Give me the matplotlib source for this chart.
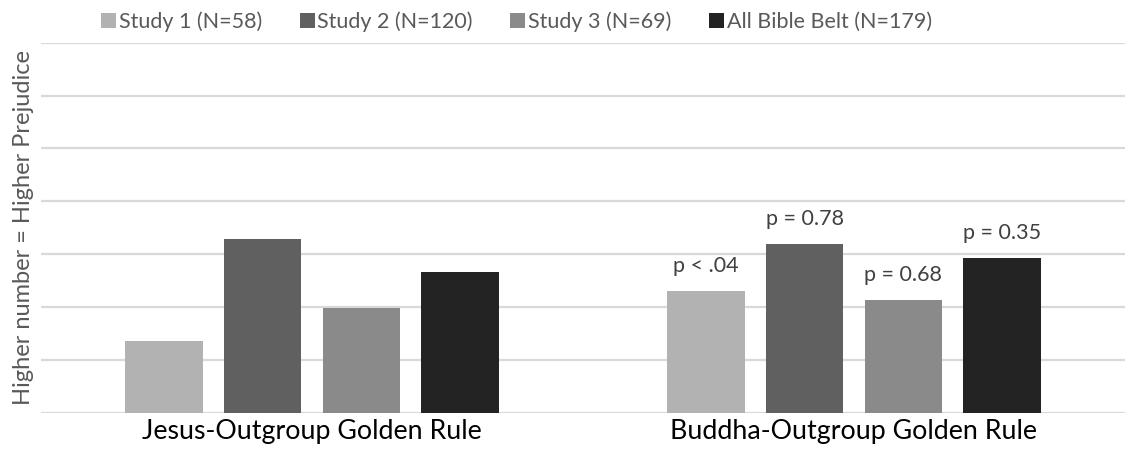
import matplotlib
matplotlib.use('Agg')
import matplotlib.pyplot as plt
from matplotlib.patches import Patch
import numpy as np

# Data (grid units, no tick labels shown)
categories = ['Jesus-Outgroup Golden Rule', 'Buddha-Outgroup Golden Rule']
series_names = ['Study 1 (N=58)', 'Study 2 (N=120)', 'Study 3 (N=69)', 'All Bible Belt (N=179)']
study1 = [1.35, 2.30]
study2 = [3.29, 3.19]
study3 = [1.99, 2.13]
all_belt = [2.66, 2.93]
p_labels = ['p < .04', 'p = 0.78', 'p = 0.68', 'p = 0.35']

colors = ['#b2b2b2', '#606060', '#8a8a8a', '#232323']

plt.rcParams['font.family'] = ['Lato', 'DejaVu Sans']

fig = plt.figure(figsize=(11.25, 4.5), dpi=100)
ax = fig.add_axes([0.0364, 0.0829, 0.9636, 0.8222])

x = np.arange(len(categories))
width = 0.143
step = 0.182
offsets = [-1.5 * step, -0.5 * step, 0.5 * step, 1.5 * step]
all_series = [study1, study2, study3, all_belt]

for i, vals in enumerate(all_series):
    bars = ax.bar(x + offsets[i], vals, width, color=colors[i], zorder=3)
    # p-value label only on the Buddha group
    ax.annotate(p_labels[i], (x[1] + offsets[i], vals[1]), xytext=(0, 18),
                textcoords='offset points', ha='center', va='center',
                fontsize=15.5, color='#404040')

ax.set_xlim(-0.5, 1.5)
ax.set_ylim(0, 7)
ax.set_yticks(range(0, 8))
ax.yaxis.grid(True, color='#d9d9d9', linewidth=1.6)
ax.set_axisbelow(True)
ax.tick_params(axis='y', left=False, labelleft=False)
ax.tick_params(axis='x', bottom=False, pad=0.8)
ax.set_xticks(x)
ax.set_xticklabels(categories, fontsize=19.3, color='#000000')
for s in ax.spines.values():
    s.set_visible(False)

ax.set_ylabel('Higher number = Higher Prejudice', fontsize=17, color='#595959')
ax.yaxis.set_label_coords(-0.0065, 0.5)

handles = [Patch(facecolor=c) for c in colors]
fig.legend(handles, series_names, loc='center', bbox_to_anchor=(0.459, 0.952), ncol=4,
           frameon=False, fontsize=15.5, handlelength=0.7, handleheight=0.7,
           handletextpad=0.12, columnspacing=1.75, labelcolor='#595959')

fig.savefig('out.png', dpi=100)
